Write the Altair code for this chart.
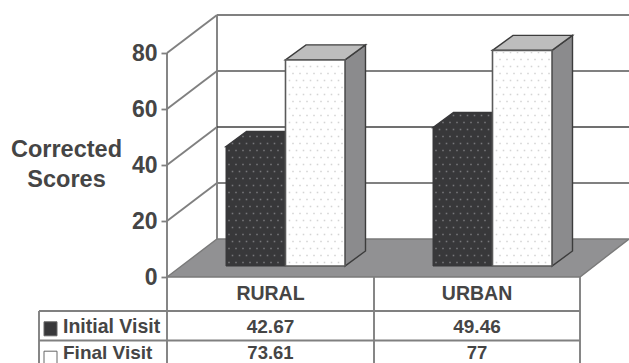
import altair as alt
import numpy as np
import pandas as pd

# Values shown in the data table
categories = ["RURAL", "URBAN"]
initial_visit = [42.67, 49.46]
final_visit = [73.61, 77]
y_ticks = [0, 20, 40, 60, 80]

# Chart frame, in pixels inside the plot group
PLOT_W, PLOT_H = 462, 277
UNIT = 2.8  # pixels per score point
WALL_DX, WALL_DY = 50, 38 / UNIT  # receding offset of the back wall
FLOOR_RIGHT = 413
BAR_DX, BAR_DY = 14.5, 11 / UNIT  # offset of the bar fronts from the front edge
SIDE_DX, SIDE_DY = 20.5, 15 / UNIT  # depth of a bar
BAR_STARTS = [59, 266]
BAR_W = 59.5
DOT_PITCH = 7.0

INK = "#454545"
LINE = "#808080"
FONT = "Liberation Sans"

x_scale = alt.Scale(domain=[0, PLOT_W], nice=False, zero=False)
y_scale = alt.Scale(domain=[0, PLOT_H / UNIT], nice=False, zero=False)

# The score axis sits on the front edge; every layer shares this definition
score_axis = alt.Axis(
    values=y_ticks,
    title=None,
    grid=False,
    domain=False,
    tickSize=6,
    tickColor=LINE,
    tickWidth=1.8,
    labelFont=FONT,
    labelFontWeight="bold",
    labelFontSize=23,
    labelColor=INK,
    labelPadding=4,
)


def X(field="x"):
    return alt.X(f"{field}:Q", scale=x_scale, axis=None)


def Y(field="y"):
    return alt.Y(f"{field}:Q", scale=y_scale, axis=score_axis)


def segments(rows, color=LINE, width=1.9):
    """Straight lines given as (x0, y0, x1, y1) in scale units."""
    frame = pd.DataFrame(
        [{"id": i, "x": p[0], "y": p[1], "o": 0} for i, p in enumerate(rows)]
        + [{"id": i, "x": p[2], "y": p[3], "o": 1} for i, p in enumerate(rows)]
    )
    return (
        alt.Chart(frame)
        .mark_line(color=color, strokeWidth=width, clip=False)
        .encode(x=X(), y=Y(), detail="id:N", order="o:Q")
    )


def skew_panel(rows, fill, stroke="#3c3c3c", width=1.4):
    """Parallelograms drawn as areas with x, y, y2 and one id per face."""
    frame = pd.DataFrame(rows, columns=["id", "x", "y", "y2"])
    return (
        alt.Chart(frame)
        .mark_area(fill=fill, stroke=stroke, strokeWidth=width, interpolate="linear", opacity=1)
        .encode(x=X(), y=Y(), y2="y2:Q", detail="id:N")
    )


def top_face(tag, left, right, top):
    back = top + SIDE_DY
    return [
        (tag, left, top, top),
        (tag, left + SIDE_DX, back, top),
        (tag, right, back, top),
        (tag, right + SIDE_DX, back, back),
    ]


def side_face(tag, right, top):
    return [
        (tag, right, top, BAR_DY),
        (tag, right + SIDE_DX, top + SIDE_DY, BAR_DY + SIDE_DY),
    ]


def bar_dots(left, right, top, limit, color, size):
    """Stippled screen over a bar's front face, running up to `limit`."""
    xs, ys = [], []
    pitch_y = DOT_PITCH / UNIT
    rows = np.arange(BAR_DY + pitch_y / 2, limit, pitch_y)
    for i, row in enumerate(rows):
        shift = 0.0
        if row > top:
            shift = (row - top) / SIDE_DY * SIDE_DX
        start = left + 3 + (i % 2) * DOT_PITCH / 2
        for cx in np.arange(start, right - 1, DOT_PITCH):
            if cx >= left + shift:
                xs.append(cx)
                ys.append(row)
    frame = pd.DataFrame({"x": xs, "y": ys})
    return (
        alt.Chart(frame)
        .mark_square(color=color, size=size, opacity=1, strokeWidth=0)
        .encode(x=X(), y=Y())
    )


layers = []

# Floor
layers.append(
    skew_panel(
        [
            ("floor", 0, 0, 0),
            ("floor", WALL_DX, WALL_DY, 0),
            ("floor", FLOOR_RIGHT, WALL_DY, 0),
            ("floor", FLOOR_RIGHT + 49, WALL_DY, WALL_DY),
        ],
        "#919193",
        stroke="#7a7a7a",
    )
)

# Back wall and the grid lines running up the side wall
light_rows = [20, 60, 80]
layers.append(
    segments(
        [(0, v, WALL_DX, v + WALL_DY) for v in y_ticks[1:]]
        + [(WALL_DX, v + WALL_DY, PLOT_W, v + WALL_DY) for v in light_rows]
        + [(WALL_DX, WALL_DY, WALL_DX, 80 + WALL_DY)]
    )
)
layers.append(segments([(WALL_DX, 40 + WALL_DY, PLOT_W, 40 + WALL_DY)], color="#404040", width=1.4))

# Bars: the dark series first, so the light one overlaps its depth
for start, first, second in zip(BAR_STARTS, initial_visit, final_visit):
    left, mid, right = start, start + BAR_W, start + 2 * BAR_W
    first_top, second_top = first + BAR_DY, second + BAR_DY

    layers.append(skew_panel(top_face(f"a{start}", left, mid, first_top), "#38383a", stroke="#38383a"))
    front_a = pd.DataFrame({"x": [left], "x2": [mid], "y": [first_top], "y2": [BAR_DY]})
    layers.append(
        alt.Chart(front_a)
        .mark_rect(fill="#38383a", stroke="#38383a", strokeWidth=1)
        .encode(x=X(), x2="x2:Q", y=Y(), y2="y2:Q")
    )
    layers.append(bar_dots(left, mid, first_top, first_top + SIDE_DY, "#77777a", 2.5))

    layers.append(skew_panel(side_face(f"s{start}", right, second_top), "#8b8b8d"))
    layers.append(skew_panel(top_face(f"b{start}", mid, right, second_top), "#bdbdbd"))
    front_b = pd.DataFrame({"x": [mid], "x2": [right], "y": [second_top], "y2": [BAR_DY]})
    layers.append(
        alt.Chart(front_b)
        .mark_rect(fill="#ffffff", stroke="#5a5a5a", strokeWidth=1.6)
        .encode(x=X(), x2="x2:Q", y=Y(), y2="y2:Q")
    )
    layers.append(bar_dots(mid + 1, right - 1, second_top, second_top - 0.6, "#d4d4d4", 2.5))

# Data table under the plot
ROW_Y = [-12.14, -22.68, -33.2]
COL_X = [-128, 0, 207, 413]
table_lines = [(COL_X[0], ROW_Y[0], COL_X[3], ROW_Y[0]), (COL_X[0], ROW_Y[1], COL_X[3], ROW_Y[1])]
table_lines += [(COL_X[0], ROW_Y[0], COL_X[0], ROW_Y[2])]
table_lines += [(c, 0, c, ROW_Y[2]) for c in COL_X[2:]]
table_lines += [(0, 80, 0, ROW_Y[2])]
layers.append(segments(table_lines))


def text(rows, size, align="center"):
    frame = pd.DataFrame(rows, columns=["x", "y", "t"])
    return (
        alt.Chart(frame)
        .mark_text(font=FONT, fontWeight="bold", fontSize=size, color=INK, align=align, baseline="middle")
        .encode(x=X(), y=Y(), text="t:N")
    )


columns_mid = [103.5, 310]
layers.append(text([(c, -6.1, n) for c, n in zip(columns_mid, categories)], 19.5))
layers.append(text([(c, -17.8, f"{v:g}") for c, v in zip(columns_mid, initial_visit)], 19))
layers.append(text([(c, -27.2, f"{v:g}") for c, v in zip(columns_mid, final_visit)], 18.5))
layers.append(text([(-104, -17.8, "Initial Visit")], 19.5, align="left"))
layers.append(text([(-104, -27.2, "Final Visit")], 19, align="left"))
layers.append(text([(-100.5, 45.3, "Corrected"), (-100.5, 34.6, "Scores")], 23.5))

# Legend keys in the table's first column
keys = pd.DataFrame(
    {"x": [-123, -123], "x2": [-110, -110], "y": [-16, -26.5], "y2": [-21, -31.3], "k": ["a", "b"]}
)
layers.append(
    alt.Chart(keys)
    .mark_rect(strokeWidth=1, stroke="#666666")
    .encode(
        x=X(),
        x2="x2:Q",
        y=Y(),
        y2="y2:Q",
        fill=alt.Fill("k:N", scale=alt.Scale(domain=["a", "b"], range=["#38383a", "#ffffff"]), legend=None),
    )
)

chart = (
    alt.layer(*layers)
    .properties(
        width=PLOT_W,
        height=PLOT_H,
        padding={"left": 167, "top": 0, "right": 0, "bottom": 86},
        autosize=alt.AutoSizeParams(type="none"),
        background="#ffffff",
    )
    .configure_view(stroke=None)
)

chart.save("out.html", embed_options={"renderer": "svg", "actions": False})
